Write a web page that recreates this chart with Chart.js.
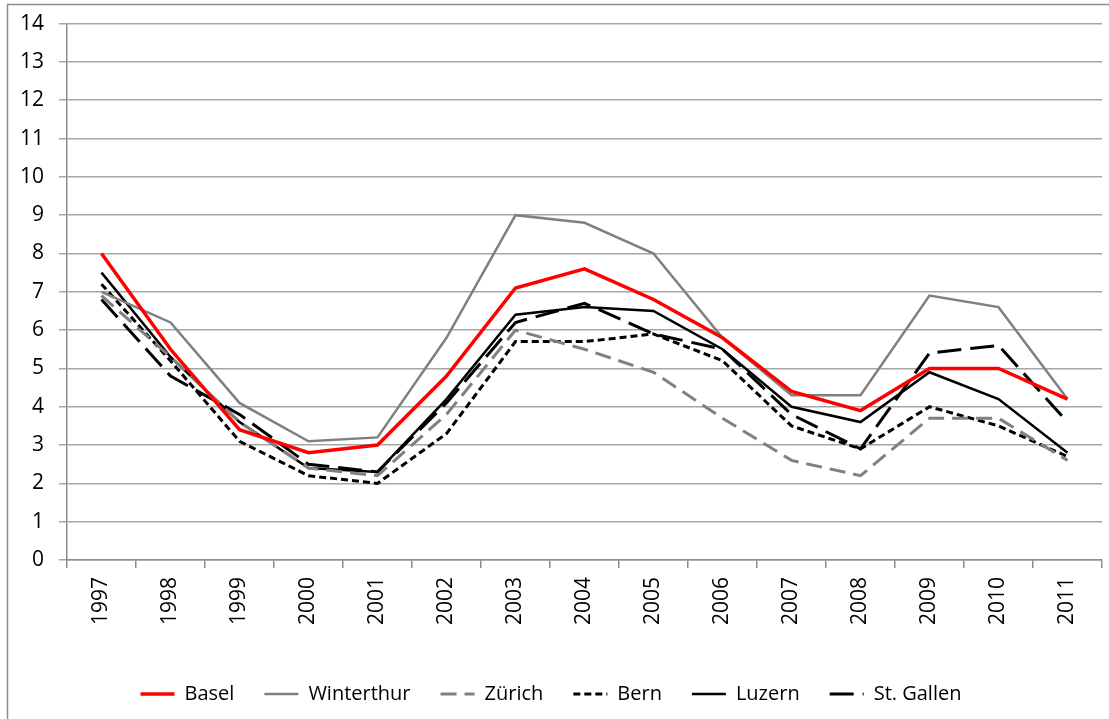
<!DOCTYPE html>
<html>
<head>
<meta charset="utf-8">
<script src="https://cdn.jsdelivr.net/npm/chart.js@4.4.1/dist/chart.umd.min.js"></script>
<style>
    html, body { margin: 0; padding: 0; background: #fff; }
    #wrap { width: 1109px; height: 719px; }
</style>
</head>
<body>
<div id="wrap"><canvas id="chart" width="1109" height="719"></canvas></div>
<script>
// Data
const years = ['1997', '1998', '1999', '2000', '2001', '2002', '2003', '2004', '2005', '2006', '2007', '2008', '2009', '2010', '2011'];
const basel = [8.0, 5.5, 3.4, 2.8, 3.0, 4.8, 7.1, 7.6, 6.8, 5.8, 4.4, 3.9, 5.0, 5.0, 4.2];
const winterthur = [7.0, 6.2, 4.1, 3.1, 3.2, 5.8, 9.0, 8.8, 8.0, 5.8, 4.3, 4.3, 6.9, 6.6, 4.2];
const zuerich = [6.9, 5.3, 3.6, 2.4, 2.2, 3.8, 6.0, 5.5, 4.9, 3.7, 2.6, 2.2, 3.7, 3.7, 2.6];
const bern = [7.2, 5.2, 3.1, 2.2, 2.0, 3.3, 5.7, 5.7, 5.9, 5.2, 3.5, 2.9, 4.0, 3.5, 2.7];
const luzern = [7.5, 5.3, 3.6, 2.4, 2.3, 4.2, 6.4, 6.6, 6.5, 5.5, 4.0, 3.6, 4.9, 4.2, 2.8];
const stGallen = [6.8, 4.8, 3.8, 2.5, 2.3, 4.1, 6.2, 6.7, 5.9, 5.5, 3.8, 2.9, 5.4, 5.6, 3.6];
const yMin = 0;
const yMax = 14;
const yStep = 1;

const FONT = '"Open Sans", "DejaVu Sans", sans-serif';

function series(label, data, color, width, dash) {
    return {
        label: label,
        data: data,
        borderColor: color,
        backgroundColor: color,
        borderWidth: width,
        borderDash: dash,
        pointRadius: 0,
        pointHoverRadius: 0,
        tension: 0,
        fill: false
    };
}

// gray frame round the whole chart, like the spreadsheet export
const framePlugin = {
    id: 'frame',
    beforeDraw(chart) {
        const ctx = chart.ctx;
        ctx.save();
        ctx.fillStyle = '#fff';
        ctx.fillRect(0, 0, chart.width, chart.height);
        ctx.strokeStyle = '#8c8c8c';
        ctx.lineWidth = 1.5;
        ctx.strokeRect(7.5, 4.5, chart.width + 20, chart.height + 20);
        ctx.restore();
    }
};

new Chart(document.getElementById('chart'), {
    type: 'line',
    data: {
        labels: years,
        datasets: [
            series('Basel', basel, '#ff0000', 3.5, []),
            series('Winterthur', winterthur, '#808080', 2.5, []),
            series('Zürich', zuerich, '#808080', 3, [16, 8]),
            series('Bern', bern, '#000000', 3, [7, 4]),
            series('Luzern', luzern, '#000000', 2.5, []),
            series('St. Gallen', stGallen, '#000000', 3, [24, 9])
        ]
    },
    options: {
        responsive: false,
        animation: false,
        layout: {
            padding: { left: 0, right: 7, top: 5, bottom: 5 }
        },
        plugins: {
            title: { display: false },
            tooltip: { enabled: false },
            legend: {
                position: 'bottom',
                labels: {
                    usePointStyle: true,
                    pointStyle: 'line',
                    pointStyleWidth: 34,
                    padding: 30,
                    color: '#000',
                    font: { family: FONT, size: 20 },
                    // legend samples take the dash and width of their line
                    generateLabels(chart) {
                        const items = Chart.defaults.plugins.legend.labels.generateLabels(chart);
                        items.forEach(item => {
                            const ds = chart.data.datasets[item.datasetIndex];
                            item.strokeStyle = ds.borderColor;
                            item.lineWidth = ds.borderWidth;
                            item.lineDash = ds.borderDash;
                            item.pointStyle = 'line';
                        });
                        return items;
                    }
                }
            }
        },
        scales: {
            x: {
                offset: true,
                afterFit(scale) { scale.height = 94; },
                grid: {
                    offset: true,
                    drawOnChartArea: false,
                    drawTicks: true,
                    tickLength: 8,
                    color: '#8c8c8c',
                    lineWidth: 1.5
                },
                border: { color: '#8c8c8c', width: 1.5 },
                ticks: {
                    color: '#000',
                    minRotation: 90,
                    maxRotation: 90,
                    padding: 9,
                    font: { family: FONT, size: 21 }
                }
            },
            y: {
                min: yMin,
                max: yMax,
                afterFit(scale) {
                    scale.width = 67;
                    scale.paddingTop -= 4;
                },
                ticks: {
                    stepSize: yStep,
                    color: '#000',
                    padding: 15,
                    font: { family: FONT, size: 21 }
                },
                grid: {
                    color: '#a6a6a6',
                    lineWidth: 1.5,
                    tickLength: 8
                },
                border: { color: '#8c8c8c', width: 1.5 }
            }
        }
    },
    plugins: [framePlugin]
});
</script>
</body>
</html>
